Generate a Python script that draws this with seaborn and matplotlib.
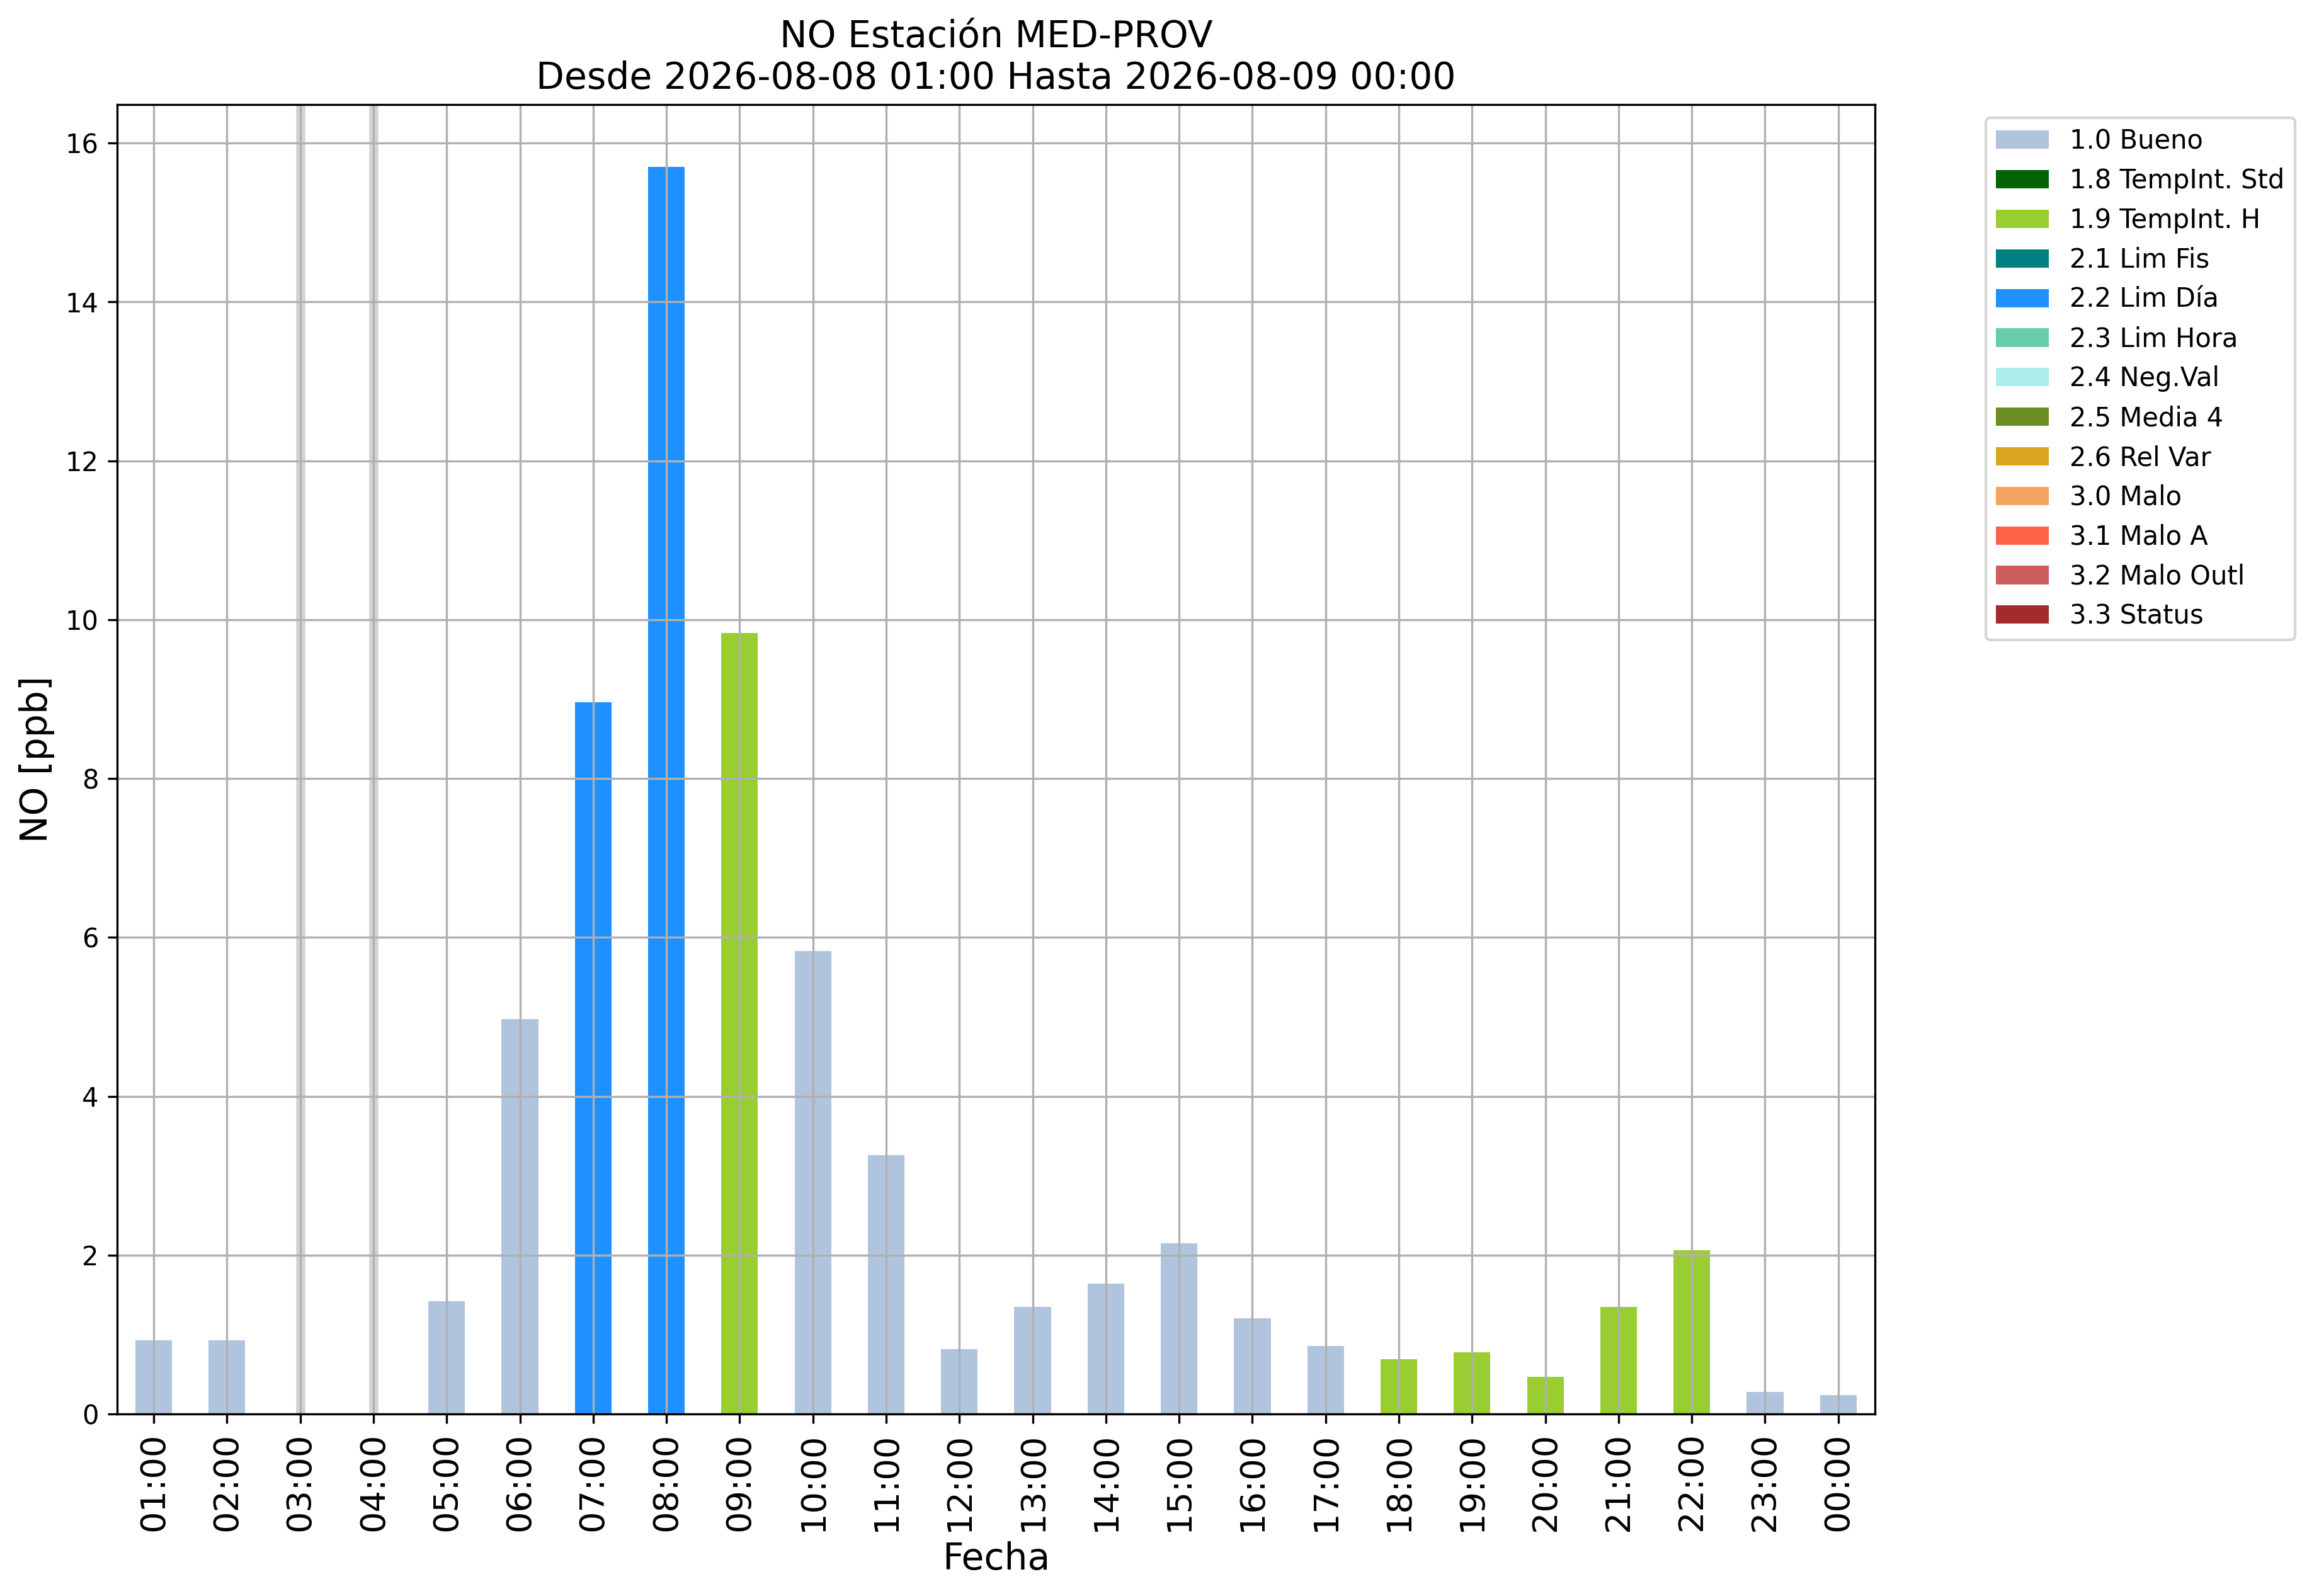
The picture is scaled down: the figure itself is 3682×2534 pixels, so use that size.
import numpy as np
import pandas as pd
import seaborn as sns
import matplotlib.pyplot as plt
from matplotlib.patches import Patch

# hourly NO values (ppb), NaN = no data
horas = ["01:00", "02:00", "03:00", "04:00", "05:00", "06:00", "07:00", "08:00",
         "09:00", "10:00", "11:00", "12:00", "13:00", "14:00", "15:00", "16:00",
         "17:00", "18:00", "19:00", "20:00", "21:00", "22:00", "23:00", "00:00"]
valores = [0.93, 0.93, np.nan, np.nan, 1.42, 4.97, 8.96, 15.70,
           9.83, 5.83, 3.26, 0.82, 1.35, 1.64, 2.15, 1.21,
           0.86, 0.69, 0.78, 0.47, 1.35, 2.06, 0.28, 0.24]
flags = ["1.0 Bueno", "1.0 Bueno", "1.0 Bueno", "1.0 Bueno", "1.0 Bueno", "1.0 Bueno",
         "2.2 Lim Día", "2.2 Lim Día", "1.9 TempInt. H", "1.0 Bueno", "1.0 Bueno",
         "1.0 Bueno", "1.0 Bueno", "1.0 Bueno", "1.0 Bueno", "1.0 Bueno", "1.0 Bueno",
         "1.9 TempInt. H", "1.9 TempInt. H", "1.9 TempInt. H", "1.9 TempInt. H",
         "1.9 TempInt. H", "1.0 Bueno", "1.0 Bueno"]

flag_names = ["1.0 Bueno", "1.8 TempInt. Std", "1.9 TempInt. H", "2.1 Lim Fis",
              "2.2 Lim Día", "2.3 Lim Hora", "2.4 Neg.Val", "2.5 Media 4",
              "2.6 Rel Var", "3.0 Malo", "3.1 Malo A", "3.2 Malo Outl", "3.3 Status"]
flag_colors = ["lightsteelblue", "darkgreen", "yellowgreen", "teal",
               "dodgerblue", "mediumaquamarine", "paleturquoise", "olivedrab",
               "goldenrod", "sandybrown", "tomato", "indianred", "brown"]
paleta = dict(zip(flag_names, flag_colors))

data = pd.DataFrame({"Fecha": horas, "NO": valores, "flag": flags})

fig = plt.figure(figsize=(3682 / 300, 2534 / 300), dpi=300)
ax = fig.add_subplot(111)
fig.subplots_adjust(left=0.0505, right=0.8085, top=0.9345, bottom=0.114)

ax = sns.barplot(data=data.dropna(), x="Fecha", y="NO", hue="flag", order=horas,
                 palette=paleta, dodge=False, width=0.5, saturation=1,
                 legend=False, ax=ax)

# horas sin dato
for i, v in enumerate(valores):
    if np.isnan(v):
        ax.axvline(i, color="lightgray", lw=3.5, zorder=1)

ax.set_xlim(-0.5, len(horas) - 0.5)
ax.set_ylim(0, np.nanmax(valores) * 1.05)
ax.grid(True)
ax.set_axisbelow("line")
ax.tick_params(axis="x", rotation=90, labelsize=13)
ax.tick_params(axis="y", labelsize=10)
ax.set_xlabel("Fecha", fontsize=14)
ax.set_ylabel("NO [ppb]", fontsize=14)
ax.set_title("NO Estación MED-PROV\nDesde 2026-08-08 01:00 Hasta 2026-08-09 00:00", fontsize=14)

handles = [Patch(facecolor=c, label=n) for n, c in zip(flag_names, flag_colors)]
ax.legend(handles=handles, loc="upper left", bbox_to_anchor=(1.063, 0.99),
          borderaxespad=0, fontsize=10)

fig.savefig("out.png", dpi=300)
